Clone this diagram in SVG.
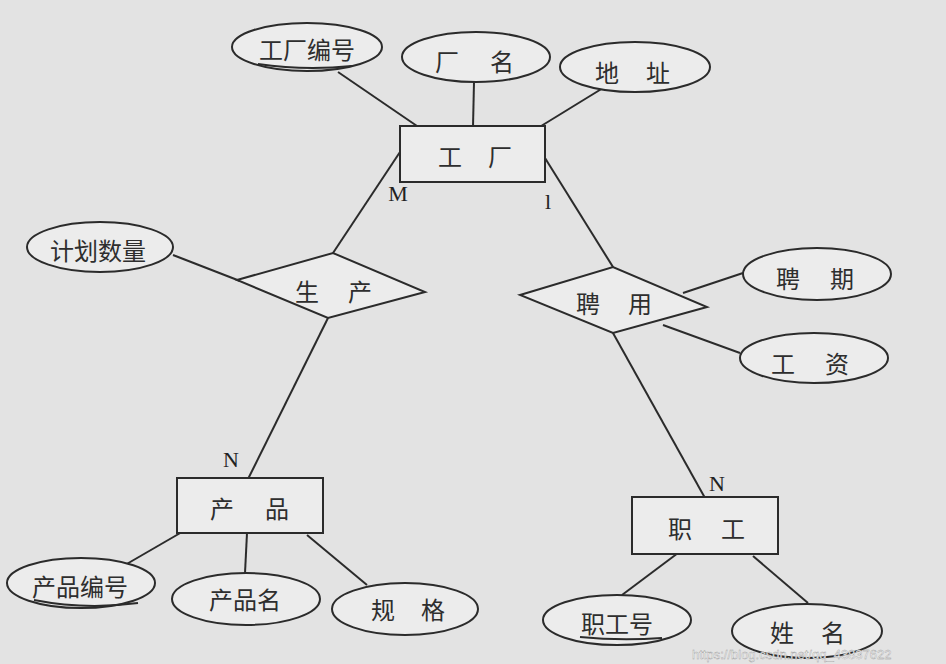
<svg xmlns="http://www.w3.org/2000/svg" width="946" height="664" viewBox="0 0 946 664">
<style>
.bg{fill:#e3e3e3}
.sh{fill:#ececec;stroke:#2b2b2b;stroke-width:2}
.ln{stroke:#2b2b2b;stroke-width:2;fill:none}
.t{font-family:"Noto Sans CJK SC","Noto Sans",sans-serif;font-size:24px;fill:#2e2e2e;text-anchor:middle;dominant-baseline:central}
.c{font-family:"Liberation Serif",serif;font-size:22px;fill:#222;text-anchor:middle;dominant-baseline:central}
.wm{font-family:"Liberation Sans",sans-serif;font-size:13px;fill:#ffffff;stroke:#9a9a9a;stroke-width:0.4}
</style>
<rect class="bg" x="0" y="0" width="946" height="664"/>
<g id="connectors">
<line class="ln" x1="338" y1="72" x2="417" y2="126"/>
<line class="ln" x1="474" y1="82" x2="473" y2="127"/>
<line class="ln" x1="603" y1="88" x2="533" y2="131"/>
<line class="ln" x1="400" y1="152" x2="333" y2="253"/>
<line class="ln" x1="545" y1="158" x2="613" y2="267"/>
<line class="ln" x1="173" y1="255" x2="240" y2="281"/>
<line class="ln" x1="328" y1="318" x2="248" y2="479"/>
<line class="ln" x1="683" y1="293" x2="743" y2="273"/>
<line class="ln" x1="663" y1="325" x2="740" y2="353"/>
<line class="ln" x1="613" y1="333" x2="705" y2="498"/>
<line class="ln" x1="182" y1="532" x2="125" y2="565"/>
<line class="ln" x1="247" y1="533" x2="245" y2="573"/>
<line class="ln" x1="307" y1="535" x2="367" y2="585"/>
<line class="ln" x1="678" y1="553" x2="622" y2="595"/>
<line class="ln" x1="753" y1="556" x2="808" y2="603"/>
<text class="c" x="398" y="193">M</text>
<text class="c" x="548" y="201">l</text>
<text class="c" x="231" y="459">N</text>
<text class="c" x="717" y="483">N</text>
</g>
<g id="factory">
<rect class="sh" x="400" y="126" width="145" height="56"/>
<text class="t" x="450 500" y="155">工厂</text>
</g>
<g id="factory-no">
<ellipse class="sh" cx="307" cy="47" rx="75" ry="24"/>
<path class="ln" d="M258,64 Q305,71 352,66"/>
<text class="t" x="307" y="48">工厂编号</text>
</g>
<g id="factory-name">
<ellipse class="sh" cx="476" cy="57" rx="74" ry="25"/>
<text class="t" x="447 502" y="60">厂名</text>
</g>
<g id="address">
<ellipse class="sh" cx="635" cy="67" rx="75" ry="25"/>
<text class="t" x="607 658" y="71">地址</text>
</g>
<g id="produce">
<polygon class="sh" points="237,280 333,253 425,292 328,318"/>
<text class="t" x="307 360" y="290">生产</text>
</g>
<g id="plan-qty">
<ellipse class="sh" cx="100" cy="247" rx="73" ry="25"/>
<text class="t" x="98" y="249">计划数量</text>
</g>
<g id="employ">
<polygon class="sh" points="520,295 613,267 707,307 613,333"/>
<text class="t" x="588 640" y="302">聘用</text>
</g>
<g id="term">
<ellipse class="sh" cx="817" cy="274" rx="74" ry="26"/>
<text class="t" x="788 842" y="277">聘期</text>
</g>
<g id="salary">
<ellipse class="sh" cx="814" cy="358" rx="74" ry="25"/>
<text class="t" x="783 837" y="362">工资</text>
</g>
<g id="product">
<rect class="sh" x="177" y="478" width="146" height="55"/>
<text class="t" x="222 277" y="507">产品</text>
</g>
<g id="product-no">
<ellipse class="sh" cx="81" cy="583" rx="74" ry="25"/>
<path class="ln" d="M34,600 Q85,610 138,603"/>
<text class="t" x="80" y="585">产品编号</text>
</g>
<g id="product-name">
<ellipse class="sh" cx="246" cy="599" rx="74" ry="26"/>
<text class="t" x="245" y="598">产品名</text>
</g>
<g id="spec">
<ellipse class="sh" cx="405" cy="609" rx="73" ry="26"/>
<text class="t" x="383 433" y="608">规格</text>
</g>
<g id="worker">
<rect class="sh" x="632" y="497" width="146" height="57"/>
<text class="t" x="680 733" y="527">职工</text>
</g>
<g id="worker-no">
<ellipse class="sh" cx="617" cy="620" rx="74" ry="25"/>
<path class="ln" d="M580,637 Q620,641 662,638"/>
<text class="t" x="617" y="622">职工号</text>
</g>
<g id="worker-name">
<ellipse class="sh" cx="807" cy="631" rx="75" ry="27"/>
<text class="t" x="782 833" y="631">姓名</text>
</g>
<text class="wm" x="692" y="659">https://blog.csdn.net/qq_43837622</text>
</svg>
